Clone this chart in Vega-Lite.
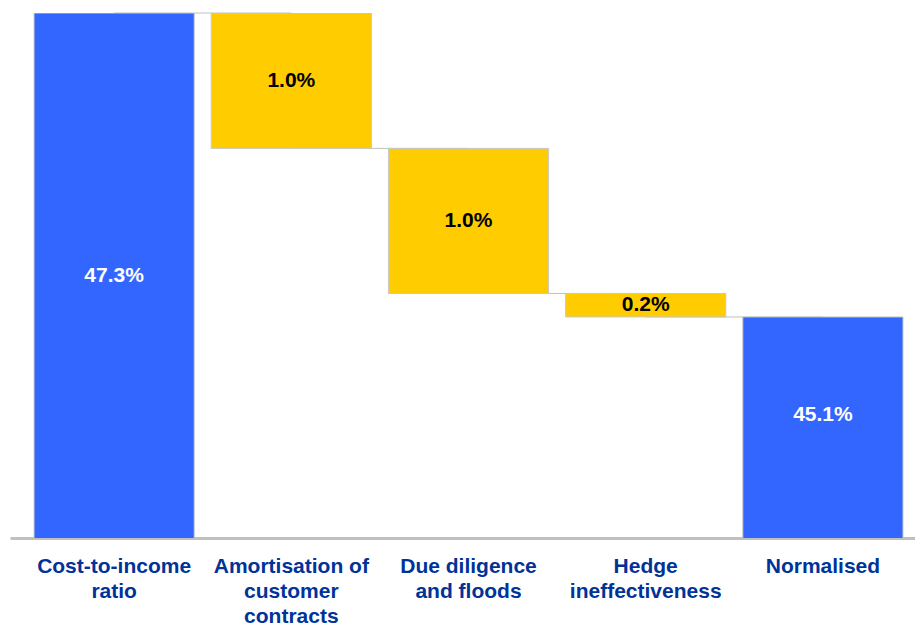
{
  "$schema": "https://vega.github.io/schema/vega-lite/v6.json",
  "width": 905,
  "height": 525,
  "padding": {"left": 10, "top": 12, "right": 0, "bottom": 5},
  "config": {"view": {"stroke": null}, "font": "Liberation Sans"},
  "data": {
    "values": [
      {"cat": "Cost-to-income|ratio", "next": "Amortisation of|customer|contracts", "start": 0, "end": 47.3, "kind": "total", "label": "47.3%"},
      {"cat": "Amortisation of|customer|contracts", "next": "Due diligence|and floods", "start": 47.3, "end": 46.32, "kind": "step", "label": "1.0%"},
      {"cat": "Due diligence|and floods", "next": "Hedge|ineffectiveness", "start": 46.32, "end": 45.27, "kind": "step", "label": "1.0%"},
      {"cat": "Hedge|ineffectiveness", "next": "Normalised", "start": 45.27, "end": 45.1, "kind": "step", "label": "0.2%"},
      {"cat": "Normalised", "next": null, "start": 0, "end": 45.1, "kind": "total", "label": "45.1%"}
    ]
  },
  "transform": [
    {"calculate": "datum.kind == 'total' ? (43.5 + datum.end) / 2 + (datum.end < 46 ? 0.09 : 0) : (datum.start + datum.end) / 2", "as": "mid"}
  ],
  "encoding": {
    "x": {
      "field": "cat",
      "type": "nominal",
      "sort": null,
      "scale": {"paddingInner": 0.096, "paddingOuter": 0.1017, "align": 0.667},
      "axis": {
        "title": null,
        "labelAngle": 0,
        "labelExpr": "split(datum.label, '|')",
        "labelFont": "Liberation Sans",
        "labelFontSize": 21,
        "labelFontWeight": "bold",
        "labelColor": "#003399",
        "labelLineHeight": 25,
        "labelBaseline": "top",
        "labelPadding": 17,
        "labelLimit": 250,
        "ticks": false,
        "domainColor": "#c0c0c0",
        "domainWidth": 3
      }
    }
  },
  "layer": [
    {
      "transform": [{"filter": "datum.next != null"}],
      "mark": {"type": "rule", "color": "#c0c0c0", "strokeWidth": 1},
      "encoding": {
        "x2": {"field": "next"},
        "y": {"field": "end", "type": "quantitative", "scale": {"domain": [43.5, 47.3], "zero": false, "nice": false}, "axis": null}
      }
    },
    {
      "mark": {"type": "bar", "stroke": "#c8c8c8", "strokeWidth": 1, "clip": true},
      "encoding": {
        "y": {"field": "start", "type": "quantitative"},
        "y2": {"field": "end"},
        "color": {"field": "kind", "type": "nominal", "scale": {"domain": ["total", "step"], "range": ["#3366FF", "#FFCC00"]}, "legend": null}
      }
    },
    {
      "mark": {"type": "text", "font": "Liberation Sans", "fontSize": 21, "fontWeight": "bold", "baseline": "middle"},
      "encoding": {
        "y": {"field": "mid", "type": "quantitative"},
        "text": {"field": "label"},
        "color": {"field": "kind", "type": "nominal", "scale": {"domain": ["total", "step"], "range": ["#ffffff", "#000000"]}, "legend": null}
      }
    }
  ],
  "resolve": {"scale": {"color": "independent"}}
}
